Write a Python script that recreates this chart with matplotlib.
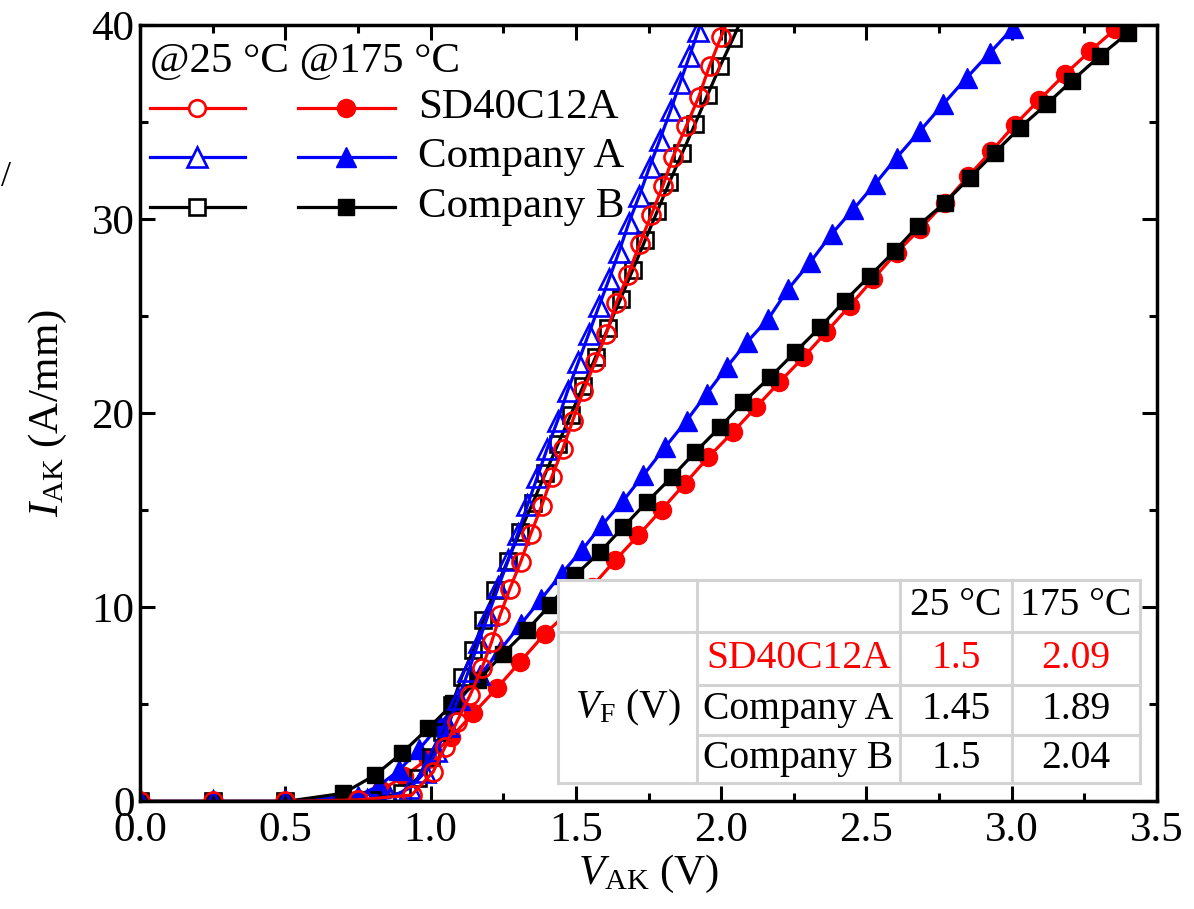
import matplotlib
matplotlib.use("Agg")
import matplotlib.pyplot as plt
from matplotlib.ticker import MultipleLocator
from matplotlib.patches import Rectangle

plt.rcParams['font.family'] = ['Liberation Serif', 'DejaVu Serif']
plt.rcParams['mathtext.fontset'] = 'custom'
plt.rcParams['mathtext.rm'] = 'Liberation Serif'
plt.rcParams['mathtext.it'] = 'Liberation Serif:italic'

# ---- data (V_AK in V, I_AK in A/mm) ----
sd_25_v = [0.0, 0.25, 0.5, 0.75, 0.935, 1.009, 1.050, 1.090, 1.136, 1.176, 1.210, 1.239,
           1.273, 1.310, 1.344, 1.382, 1.417, 1.455, 1.489, 1.525, 1.566, 1.604, 1.639,
           1.679, 1.719, 1.759, 1.799, 1.834, 1.880, 1.923, 1.960, 2.000, 2.040]
sd_25_i = [0.0, 0.0, 0.0, 0.08, 0.33, 1.53, 2.82, 4.10, 5.48, 6.85, 8.22, 9.59,
           10.97, 12.34, 13.76, 15.22, 16.71, 18.17, 19.62, 21.13, 22.62, 24.08, 25.7,
           27.1, 28.7, 30.2, 31.7, 33.2, 34.8, 36.3, 37.9, 39.4, 40.9]

a_25_v = [0.0, 0.25, 0.5, 0.78, 0.86, 0.93, 0.98, 1.02, 1.06, 1.095, 1.13, 1.165, 1.198,
          1.233, 1.267, 1.300, 1.333, 1.367, 1.401, 1.437, 1.472, 1.508, 1.544, 1.579,
          1.614, 1.648, 1.682, 1.718, 1.754, 1.789, 1.826, 1.858, 1.891, 1.921, 1.950]
a_25_i = [0.0, 0.0, 0.0, 0.05, 0.2, 0.7, 1.5, 2.6, 3.9, 5.3, 6.7, 8.2, 9.6,
          11.05, 12.42, 13.80, 15.25, 16.71, 18.17, 19.62, 21.17, 22.62, 24.08, 25.5,
          26.9, 28.3, 29.8, 31.2, 32.7, 34.1, 35.6, 37.0, 38.4, 39.7, 41.0]

b_25_v = [0.0, 0.25, 0.5, 0.8, 0.9, 0.955, 1.0, 1.04, 1.073, 1.107, 1.147, 1.181, 1.222,
          1.265, 1.308, 1.352, 1.395, 1.438, 1.482, 1.525, 1.568, 1.611, 1.654, 1.696,
          1.738, 1.780, 1.822, 1.866, 1.910, 1.953, 1.997, 2.042, 2.085]
b_25_i = [0.0, 0.0, 0.0, 0.1, 0.45, 1.2, 2.3, 3.6, 4.96, 6.42, 7.79, 9.34, 10.88,
          12.4, 13.9, 15.4, 16.9, 18.4, 19.9, 21.4, 22.9, 24.4, 25.9, 27.4,
          28.9, 30.4, 31.9, 33.4, 34.9, 36.4, 37.9, 39.34, 40.8]

sd_175_v = [0.0, 0.25, 0.5, 0.75, 0.83, 0.91, 0.99, 1.07, 1.147, 1.227, 1.308, 1.394,
            1.474, 1.554, 1.635, 1.715, 1.795, 1.875, 1.956, 2.040, 2.120, 2.200, 2.283,
            2.361, 2.443, 2.523, 2.604, 2.684, 2.770, 2.850, 2.930, 3.010, 3.095, 3.183,
            3.270, 3.355, 3.440]
sd_175_i = [0.0, 0.0, 0.0, 0.15, 0.6, 1.3, 2.2, 3.3, 4.54, 5.82, 7.19, 8.65,
            9.76, 11.05, 12.42, 13.71, 15.03, 16.37, 17.74, 19.02, 20.31, 21.59, 22.88,
            24.17, 25.54, 26.91, 28.28, 29.49, 30.85, 32.2, 33.5, 34.85, 36.15, 37.46,
            38.66, 39.77, 41.0]

a_175_v = [0.0, 0.25, 0.5, 0.751, 0.821, 0.891, 0.961, 1.031, 1.101, 1.171, 1.241, 1.311,
           1.381, 1.451, 1.520, 1.589, 1.663, 1.732, 1.807, 1.881, 1.950, 2.019, 2.088,
           2.162, 2.231, 2.306, 2.380, 2.455, 2.529, 2.604, 2.684, 2.764, 2.845, 2.925,
           3.005]
a_175_i = [0.0, 0.0, 0.0, 0.3, 0.8, 1.6, 2.7, 3.94, 5.24, 6.54, 7.84, 9.14,
           10.44, 11.74, 12.94, 14.22, 15.50, 16.80, 18.25, 19.62, 21.00, 22.37, 23.65,
           24.86, 26.40, 27.77, 29.23, 30.51, 31.80, 33.17, 34.54, 35.92, 37.28, 38.57,
           39.86]

b_175_v = [0.0, 0.25, 0.5, 0.699, 0.809, 0.900, 0.992, 1.078, 1.164, 1.250, 1.331, 1.411,
           1.497, 1.583, 1.663, 1.744, 1.830, 1.910, 1.996, 2.076, 2.168, 2.254, 2.340,
           2.426, 2.512, 2.598, 2.678, 2.770, 2.856, 2.942, 3.028, 3.120, 3.206, 3.303,
           3.401]
b_175_i = [0.0, 0.0, 0.0, 0.42, 1.36, 2.48, 3.77, 5.05, 6.25, 7.62, 8.82, 10.11,
           11.65, 12.85, 14.14, 15.42, 16.71, 17.99, 19.28, 20.57, 21.85, 23.14, 24.42,
           25.80, 27.08, 28.37, 29.66, 30.85, 32.14, 33.43, 34.71, 35.92, 37.11, 38.40,
           39.60]

devices = ['SD40C12A', 'Company A', 'Company B']
vf_25 = ['1.5', '1.45', '1.5']
vf_175 = ['2.09', '1.89', '2.04']

RED, BLUE, BLACK = '#ff0000', '#0000ff', '#000000'
FS = 31
lw = 2.3

fig = plt.figure(figsize=(11.94, 9.09), dpi=100)
ax = fig.add_axes([0.1173, 0.1183, 0.9690 - 0.1173, 0.9725 - 0.1183])

# 175 C first (filled), then 25 C (open)
ax.plot(sd_175_v, sd_175_i, '-o', color=RED, lw=lw, ms=13, mfc=RED, mec=RED)
ax.plot(a_175_v, a_175_i, '-^', color=BLUE, lw=lw, ms=15, mfc=BLUE, mec=BLUE)
ax.plot(b_175_v, b_175_i, '-s', color=BLACK, lw=lw, ms=12, mfc=BLACK, mec=BLACK)
ax.plot(b_25_v, b_25_i, '-s', color=BLACK, lw=lw, ms=11, mfc='none', mec=BLACK, mew=1.9)
ax.plot(a_25_v, a_25_i, '-^', color=BLUE, lw=lw, ms=14, mfc='none', mec=BLUE, mew=1.9)
ax.plot(sd_25_v, sd_25_i, '-o', color=RED, lw=lw, ms=13, mfc='none', mec=RED, mew=1.9)

ax.set_xlim(0, 3.5)
ax.set_ylim(0, 40)
ax.xaxis.set_major_locator(MultipleLocator(0.5))
ax.xaxis.set_minor_locator(MultipleLocator(0.25))
ax.yaxis.set_major_locator(MultipleLocator(10))
ax.yaxis.set_minor_locator(MultipleLocator(5))
ax.set_xticklabels([f'{v:.1f}' for v in ax.get_xticks()])
ax.tick_params(which='both', direction='in', top=True, right=True, labelsize=FS, width=2.2)
ax.tick_params(which='major', length=11, pad=4)
ax.tick_params(axis='x', which='major', pad=7)
ax.tick_params(which='minor', length=6)
for s in ax.spines.values():
    s.set_linewidth(2.5)

ax.set_xlabel(r'$V_{\mathrm{AK}}$ (V)', fontsize=FS, labelpad=2)
ax.set_ylabel(r'$I_{\mathrm{AK}}$ (A/mm)', fontsize=FS, labelpad=16)

# ---- hand-built legend ----
tr = ax.transAxes
def ax_x(px):
    return (px - 140) / 1017.0
def ax_y(py):
    return (801.5 - py) / 776.5

ax.text(ax_x(150), ax_y(62), '@25 °C @175 °C', transform=tr, fontsize=FS,
        ha='left', va='center')
leg_rows = [(RED, 'o', 13, devices[0], 108), (BLUE, '^', 15, devices[1], 157),
            (BLACK, 's', 12, devices[2], 207)]
for col, mk, ms, lab, py in leg_rows:
    y = ax_y(py)
    ax.plot([ax_x(150), ax_x(245)], [y, y], color=col, lw=lw, transform=tr, clip_on=False)
    ax.plot([ax_x(197)], [y], mk, ms=ms - 1, mfc='white', mec=col, mew=1.9,
            transform=tr, clip_on=False)
    ax.plot([ax_x(298), ax_x(395)], [y, y], color=col, lw=lw, transform=tr, clip_on=False)
    ax.plot([ax_x(346)], [y], mk, ms=ms, mfc=col, mec=col, transform=tr, clip_on=False)
    ax.text(ax_x(418), y, lab, transform=tr, fontsize=FS, ha='left', va='center')

# ---- V_F table ----
cols_px = [558, 697, 900, 1012, 1140]
rows_px = [580, 632, 685, 735, 783]
gray = '#d3d3d3'
cx = [ax_x(p) for p in cols_px]
ry = [ax_y(p) for p in rows_px]
ax.add_patch(Rectangle((cx[0], ry[-1]), cx[-1] - cx[0], ry[0] - ry[-1], transform=tr,
                       facecolor='white', edgecolor=gray, lw=2.2, zorder=5))
for x in cx[1:-1]:
    ax.plot([x, x], [ry[0], ry[-1]], color=gray, lw=2.2, transform=tr, zorder=6)
ax.plot([cx[0], cx[-1]], [ry[1], ry[1]], color=gray, lw=2.2, transform=tr, zorder=6)
for y in ry[2:4]:
    ax.plot([cx[1], cx[-1]], [y, y], color=gray, lw=2.2, transform=tr, zorder=6)

TFS = 28.5
def mid(a, b):
    return (a + b) / 2
ax.text(mid(cx[2], cx[3]), mid(ry[0], ry[1]), '25 °C', transform=tr, fontsize=TFS,
        ha='center', va='center', zorder=7)
ax.text(mid(cx[3], cx[4]), mid(ry[0], ry[1]), '175 °C', transform=tr, fontsize=TFS,
        ha='center', va='center', zorder=7)
ax.text(mid(cx[0], cx[1]), mid(ry[1], ry[4]), r'$V_{\mathrm{F}}$ (V)', transform=tr,
        fontsize=TFS, ha='center', va='center', zorder=7)
for k in range(3):
    c = RED if k == 0 else BLACK
    yy = mid(ry[k + 1], ry[k + 2])
    ax.text(mid(cx[1], cx[2]), yy, devices[k], transform=tr, fontsize=TFS, color=c,
            ha='center', va='center', zorder=7)
    ax.text(mid(cx[2], cx[3]), yy, vf_25[k], transform=tr, fontsize=TFS, color=c,
            ha='center', va='center', zorder=7)
    ax.text(mid(cx[3], cx[4]), yy, vf_175[k], transform=tr, fontsize=TFS, color=c,
            ha='center', va='center', zorder=7)

# stray mark at the left edge of the original crop
fig.text(0.001, 1 - 178 / 909, '/', fontsize=26, ha='left', va='center')

fig.savefig('out.png', dpi=100)
